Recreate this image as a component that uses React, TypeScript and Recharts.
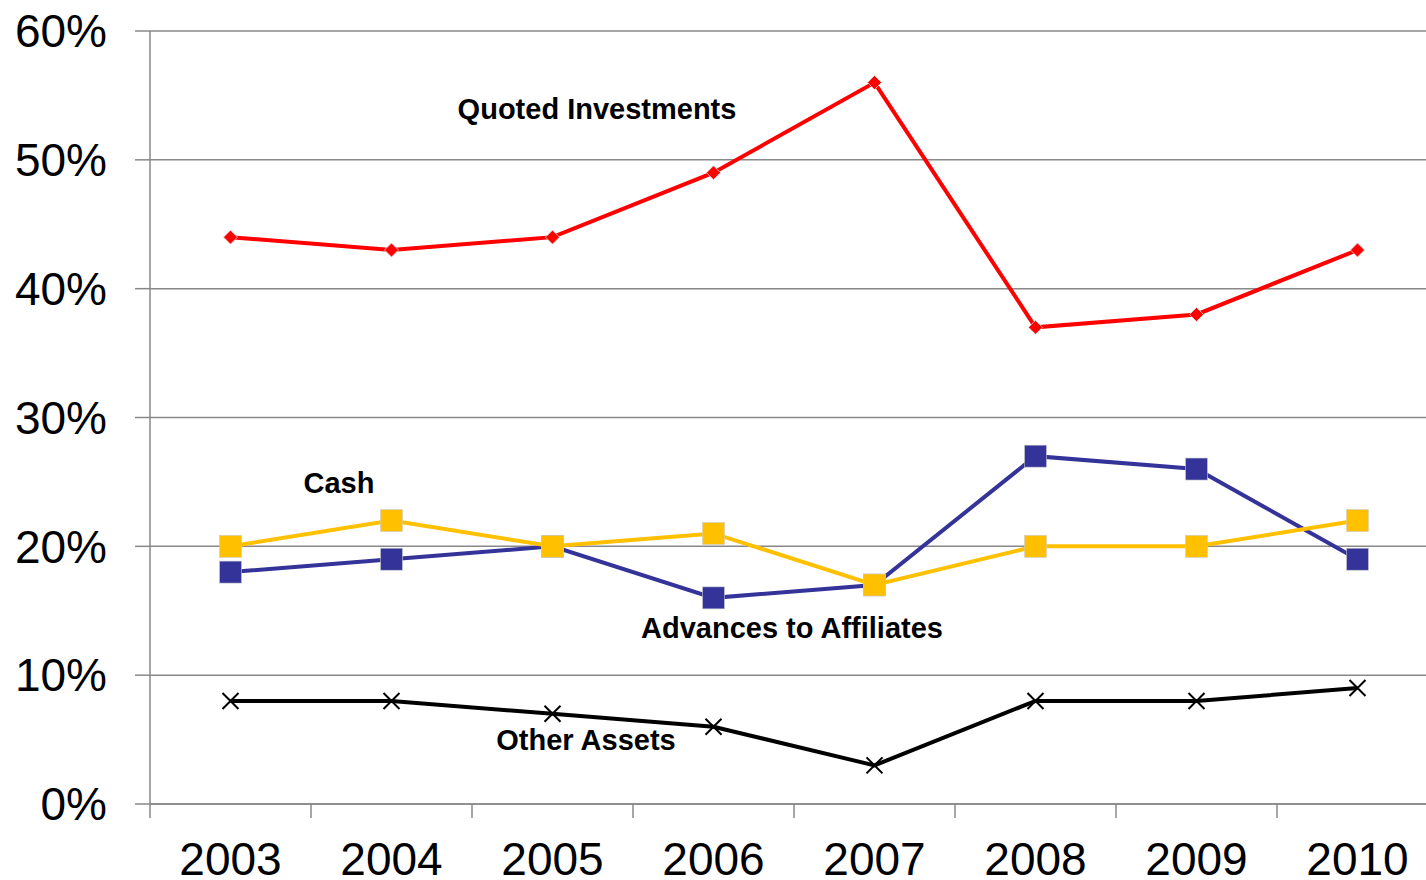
import React from "react";
import { LineChart, Line, XAxis, YAxis, CartesianGrid } from "recharts";

const years = ["2003", "2004", "2005", "2006", "2007", "2008", "2009", "2010"];
const quoted = [44, 43, 44, 49, 56, 37, 38, 43];
const advances = [18, 19, 20, 16, 17, 27, 26, 19];
const cash = [20, 22, 20, 21, 17, 20, 20, 22];
const other = [8, 8, 7, 6, 3, 8, 8, 9];
const yTicks = [0, 10, 20, 30, 40, 50, 60];

const data = years.map((y, i) => ({
  year: y,
  quoted: quoted[i],
  advances: advances[i],
  cash: cash[i],
  other: other[i],
}));

const font = "'Liberation Sans', Arial, sans-serif";
const tick = { fontSize: 46, fill: "#000", fontFamily: font };
const HALF_BAND = 80.5;

// category label plus a tick mark on the boundary to its left
function YearTick(p: any) {
  const { x, y, payload } = p;
  return (
    <g>
      <line x1={x - HALF_BAND} x2={x - HALF_BAND} y1={804} y2={818} stroke="#888" strokeWidth={1.5} />
      <text x={x} y={y} dy="0.71em" textAnchor="middle" fontSize={46} fontFamily={font} fill="#000">
        {payload.value}
      </text>
    </g>
  );
}

function Diamond(p: any) {
  const { cx, cy } = p;
  const s = 7;
  return <path d={`M${cx},${cy - s}L${cx + s},${cy}L${cx},${cy + s}L${cx - s},${cy}Z`} fill="#ff0000" stroke="#ddd" strokeWidth={0.8} />;
}

function Square(color: string) {
  return (p: any) => {
    const { cx, cy } = p;
    const s = 11;
    return <rect x={cx - s} y={cy - s} width={2 * s} height={2 * s} fill={color} stroke="#ccc" strokeWidth={0.6} />;
  };
}

function Cross(p: any) {
  const { cx, cy } = p;
  const s = 8;
  return (
    <path d={`M${cx - s},${cy - s}L${cx + s},${cy + s}M${cx + s},${cy - s}L${cx - s},${cy + s}`} stroke="#000" strokeWidth={2} />
  );
}

const lbl: React.CSSProperties = {
  position: "absolute",
  fontFamily: font,
  fontWeight: "bold",
  fontSize: 29,
  color: "#000",
  whiteSpace: "nowrap",
  transform: "translate(-50%, -50%)",
};

export default function App() {
  return (
    <div style={{ position: "absolute", left: 0, top: 0, width: 1426, height: 880, overflow: "hidden", background: "#fff" }}>
      <LineChart width={1440} height={880} data={data} margin={{ top: 31, right: 2, left: 0, bottom: 0 }}>
        <CartesianGrid vertical={false} stroke="#888" strokeWidth={1.5} />
        <XAxis
          dataKey="year"
          height={76}
          tick={<YearTick />}
          tickLine={false}
          tickSize={14}
          tickMargin={24}
          padding={{ left: HALF_BAND, right: HALF_BAND }}
          stroke="#888"
          strokeWidth={1.5}
          interval={0}
        />
        <YAxis
          domain={[0, 60]}
          ticks={yTicks}
          tickFormatter={(v: number) => `${v}%`}
          width={150}
          tick={tick}
          tickSize={15}
          tickMargin={28}
          stroke="#888"
          strokeWidth={1.5}
          interval={0}
        />
        <Line dataKey="quoted" stroke="#ff0000" strokeWidth={4} dot={<Diamond />} isAnimationActive={false} />
        <Line dataKey="advances" stroke="#333399" strokeWidth={4} dot={Square("#333399")} isAnimationActive={false} />
        <Line dataKey="cash" stroke="#ffc000" strokeWidth={4} dot={Square("#ffc000")} isAnimationActive={false} />
        <Line dataKey="other" stroke="#000" strokeWidth={4} dot={<Cross />} isAnimationActive={false} />
      </LineChart>
      <div style={{ ...lbl, left: 597, top: 109 }}>Quoted Investments</div>
      <div style={{ ...lbl, left: 339, top: 483 }}>Cash</div>
      <div style={{ ...lbl, left: 792, top: 628 }}>Advances to Affiliates</div>
      <div style={{ ...lbl, left: 586, top: 740 }}>Other Assets</div>
    </div>
  );
}
